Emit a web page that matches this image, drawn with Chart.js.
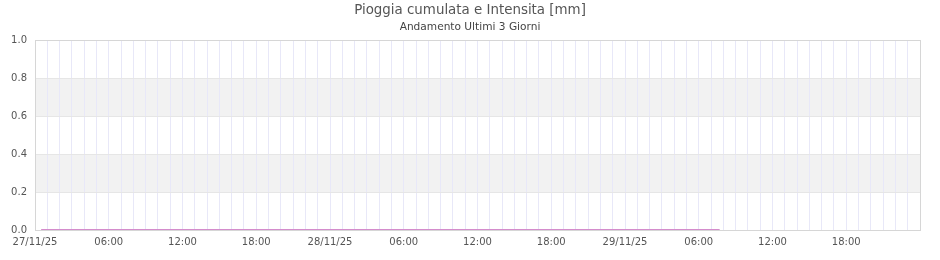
<!DOCTYPE html>
<html lang="it">
  <head>
    <meta charset="UTF-8" />
    <title>Pioggia cumulata e Intensita</title>
    <script src="https://cdn.jsdelivr.net/npm/chart.js"></script>
    <style>
      html, body { margin: 0; padding: 0; background: #fff; }
      #wrap { width: 940px; height: 260px; }
    </style>
  </head>
  <body>
    <div id="wrap"><canvas id="chartPioggia"></canvas></div>

    <script>
      // ore dall'inizio del 27/11/25 00:00
      const ore = [0.5, 1.5, 2.5, 3.5, 4.5, 5.5, 6.5, 7.5, 8.5, 9.5, 10.5, 11.5, 12.5, 13.5,
        14.5, 15.5, 16.5, 17.5, 18.5, 19.5, 20.5, 21.5, 22.5, 23.5, 24.5, 25.5, 26.5, 27.5,
        28.5, 29.5, 30.5, 31.5, 32.5, 33.5, 34.5, 35.5, 36.5, 37.5, 38.5, 39.5, 40.5, 41.5,
        42.5, 43.5, 44.5, 45.5, 46.5, 47.5, 48.5, 49.5, 50.5, 51.5, 52.5, 53.5, 54.5, 55.7];
      const pioggia = [0, 0, 0, 0, 0, 0, 0, 0, 0, 0, 0, 0, 0, 0,
        0, 0, 0, 0, 0, 0, 0, 0, 0, 0, 0, 0, 0, 0,
        0, 0, 0, 0, 0, 0, 0, 0, 0, 0, 0, 0, 0, 0,
        0, 0, 0, 0, 0, 0, 0, 0, 0, 0, 0, 0, 0, 0];
      const tickOre = [0, 6, 12, 18, 24, 30, 36, 42, 48, 54, 60, 66];
      const tickLabels = ["27/11/25", "06:00", "12:00", "18:00", "28/11/25", "06:00",
        "12:00", "18:00", "29/11/25", "06:00", "12:00", "18:00"];
      const bande = [[0.2, 0.4], [0.6, 0.8]];

      const font = "'DejaVu Sans', Verdana, sans-serif";

      // titoli centrati sulla tela, bande alternate e bordo dell'area del grafico
      const plotBands = {
        id: "plotBands",
        beforeDraw(chart) {
          const { ctx, chartArea, scales, width } = chart;
          ctx.save();
          ctx.fillStyle = "#f2f2f2";
          bande.forEach(([a, b]) => {
            const y1 = scales.y.getPixelForValue(b);
            const y2 = scales.y.getPixelForValue(a);
            ctx.fillRect(chartArea.left, y1, chartArea.right - chartArea.left, y2 - y1);
          });
          ctx.textAlign = "center";
          ctx.textBaseline = "middle";
          ctx.fillStyle = "#555";
          ctx.font = "13.4px " + font;
          ctx.fillText("Pioggia cumulata e Intensita [mm]", width / 2, 11);
          ctx.fillStyle = "#444";
          ctx.font = "10.6px " + font;
          ctx.fillText("Andamento Ultimi 3 Giorni", width / 2, 27);
          ctx.restore();
        },
        beforeDatasetsDraw(chart) {
          const { ctx, chartArea } = chart;
          ctx.save();
          ctx.strokeStyle = "#d6d6d6";
          ctx.lineWidth = 1;
          ctx.strokeRect(Math.round(chartArea.left) + 0.5, Math.round(chartArea.top) + 0.5,
            Math.round(chartArea.right - chartArea.left), Math.round(chartArea.bottom - chartArea.top));
          ctx.restore();
        },
      };

      new Chart(document.getElementById("chartPioggia"), {
        type: "line",
        data: {
          datasets: [
            {
              label: "Pioggia cumulata",
              data: ore.map((x, i) => ({ x: x, y: pioggia[i] })),
              borderColor: "#d48ccc",
              borderWidth: 2,
              pointRadius: 0,
              tension: 0,
            },
          ],
        },
        options: {
          responsive: true,
          maintainAspectRatio: false,
          animation: false,
          layout: { padding: { left: 0, right: 20, top: 40, bottom: 0 } },
          plugins: {
            legend: { display: false },
            tooltip: { enabled: false },
          },
          scales: {
            x: {
              type: "linear",
              min: 0,
              max: 72,
              afterFit(scale) { scale.height = 30; },
              grid: { color: "#e8e8f8", drawTicks: false },
              border: { display: false },
              ticks: {
                stepSize: 1,
                autoSkip: false,
                maxRotation: 0,
                padding: 6,
                color: "#555",
                font: { family: font, size: 10 },
                callback: (v) => {
                  const i = tickOre.indexOf(v);
                  return i >= 0 ? tickLabels[i] : "";
                },
              },
            },
            y: {
              min: 0,
              max: 1,
              afterFit(scale) { scale.width = 35; },
              grid: { color: "#e6e6e6", drawTicks: false },
              border: { display: false },
              ticks: {
                stepSize: 0.2,
                padding: 8,
                color: "#555",
                font: { family: font, size: 10 },
                callback: (v) => v.toFixed(1),
              },
            },
          },
        },
        plugins: [plotBands],
      });
    </script>
  </body>
</html>
